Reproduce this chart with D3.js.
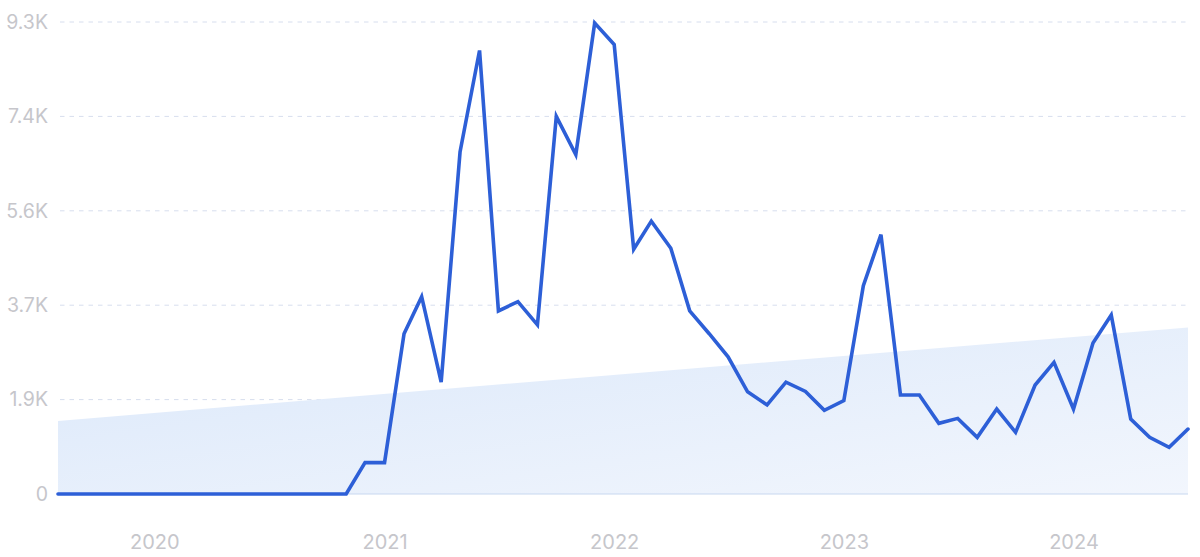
<!DOCTYPE html>
<html><head><meta charset="utf-8">
<script src="https://cdn.jsdelivr.net/npm/d3@7"></script>
<style>body{margin:0;background:#fff;}svg{display:block;}</style>
</head><body>
<svg id="chart" width="1200" height="557"></svg>
<script>
const startMonth = "2019-08";
const values = [0,0,0,0,0,0,0,0,0,0,0,0,0,0,0,0,
  618,618,3158,3888,2204,6738,8739,3608,3790,3334,7440,6689,9279,
  8858,4822,5377,4843,3608,3158,2702,2014,1755,2204,2021,1649,
  1839,4106,5110,1950,1950,1392,1490,1116,1674,1215,2147,2593,
  1674,2974,3525,1477,1116,919,1280];
const trend = [1440, 3280];
const yTicks = [0,1860,3720,5580,7440,9300];
const yTickLabels = ["0","1.9K","3.7K","5.6K","7.4K","9.3K"];
const xTickYears = [2020,2021,2022,2023,2024];

const parse = d3.timeParse("%Y-%m");
const t0 = parse(startMonth);
const dates = values.map((v,i)=>d3.timeMonth.offset(t0,i));
const data = values.map((v,i)=>({date:dates[i], v}));

const svg = d3.select("#chart");
const L=58, R=1188, T=22, B=494;
const x = d3.scaleTime().domain([dates[0], dates[dates.length-1]]).range([L,R]);
const y = d3.scaleLinear().domain([0,9300]).range([B,T]);

const defs = svg.append("defs");
const g = defs.append("linearGradient").attr("id","tg").attr("x1","0").attr("y1","0").attr("x2","1").attr("y2","1");
g.append("stop").attr("offset","0").attr("stop-color","#dbe8fa");
g.append("stop").attr("offset","1").attr("stop-color","#f2f6fd");

const font = "Inter, 'Noto Sans', sans-serif";
// y axis
const yAxis = d3.axisLeft(y).tickValues(yTicks).tickFormat((d,i)=>yTickLabels[i]).tickSize(0).tickPadding(10);
const ga = svg.append("g").attr("transform",`translate(${L},0)`).call(yAxis);
ga.select(".domain").remove();
ga.selectAll("text").attr("fill","#c6c6cb").style("font-family",font).style("font-size","19.5px").style("font-weight","400");
svg.append("g").selectAll("line").data(yTicks.filter(d=>d>0)).join("line")
  .attr("x1",L+2).attr("x2",R).attr("y1",d=>y(d)).attr("y2",d=>y(d))
  .attr("stroke","#d7deee").attr("stroke-width",1).attr("stroke-dasharray","4.5,5");

// trend area
const trendData = [{date:dates[0], v:trend[0]},{date:dates[dates.length-1], v:trend[1]}];
svg.append("path").datum(trendData)
  .attr("d", d3.area().x(d=>x(d.date)).y0(y(0)).y1(d=>y(d.v)))
  .attr("fill","url(#tg)");
svg.append("line").attr("x1",L).attr("x2",R).attr("y1",y(0)).attr("y2",y(0)).attr("stroke","#c8d8f0").attr("stroke-width",1.2);

// x axis
const xAxis = d3.axisBottom(x).tickValues(xTickYears.map(yr=>new Date(yr,0,1))).tickFormat(d3.timeFormat("%Y")).tickSize(0).tickPadding(0);
const gx = svg.append("g").attr("transform",`translate(0,${B})`).call(xAxis);
gx.select(".domain").remove();
gx.selectAll("text").attr("fill","#c6c6cb").attr("dy",0).attr("y",55).style("font-family",font).style("font-size","20px");

// line
svg.append("path").datum(data)
  .attr("d", d3.line().x(d=>x(d.date)).y(d=>y(d.v)))
  .attr("fill","none").attr("stroke","#2d5fd7").attr("stroke-width",3.6).attr("stroke-linejoin","miter").attr("stroke-linecap","round");
</script>
</body></html>
